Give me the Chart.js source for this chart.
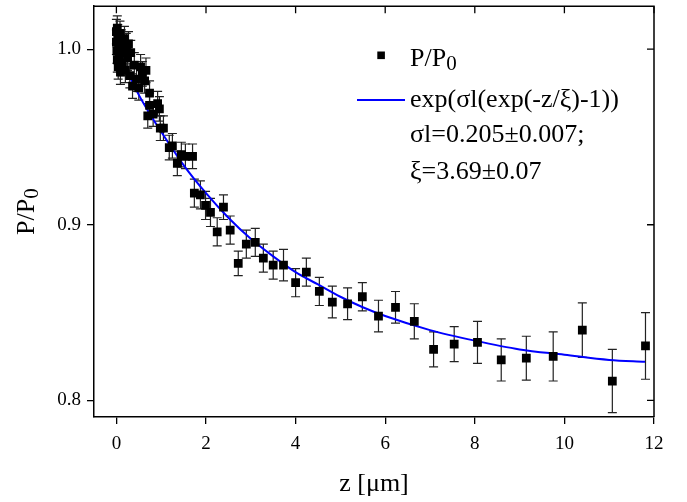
<!DOCTYPE html>
<html>
<head>
<meta charset="utf-8">
<script src="https://cdn.jsdelivr.net/npm/chart.js@4/dist/chart.umd.min.js"></script>
<style>
html,body{margin:0;padding:0;background:#fff;}
#wrap{width:687px;height:502px;position:relative;}
</style>
</head>
<body>
<div id="wrap"><canvas id="c" width="687" height="502"></canvas></div>
<script>
// ---- measured data: z [µm], P/P0 and its error ----
const zValues = [
  0.00,0.00,0.01,0.02,0.02,0.03,0.04,0.05,0.06,0.08,0.09,0.11,0.13,0.15,0.18,0.20,0.22,0.25,0.27,0.30,
  0.32,0.36,0.40,0.45,0.50,0.54,0.58,0.63,0.66,0.70,0.74,0.74,0.82,0.92,0.96,0.98,1.05,1.18,1.25,1.36,
  1.45,1.54,1.70,1.74,1.875,1.99,2.10,2.25,2.39,2.54,2.72,2.90,3.10,3.28,3.50,3.73,4.00,4.24,4.53,4.82,
  5.16,5.49,5.85,6.23,6.65,7.08,7.54,8.06,8.59,9.15,9.75,10.40,11.07,11.81
];
const pValues = [
  1.010,1.004,0.999,1.012,0.994,1.007,0.990,1.002,0.996,1.009,0.987,1.004,0.992,0.998,1.006,0.988,1.002,0.995,1.003,0.985,
  0.998,0.979,0.991,0.983,0.978,0.990,0.986,0.982,0.988,0.962,0.968,0.975,0.963,0.969,0.966,0.955,0.955,0.944,0.945,0.935,
  0.940,0.939,0.939,0.918,0.917,0.911,0.907,0.896,0.910,0.897,0.878,0.889,0.890,0.881,0.877,0.877,0.867,0.873,0.862,0.856,
  0.855,0.859,0.848,0.853,0.845,0.829,0.832,0.833,0.823,0.824,0.825,0.840,0.811,0.831
];
const pErrors = [
  0.007,0.007,0.007,0.007,0.007,0.007,0.007,0.007,0.007,0.007,0.007,0.007,0.007,0.007,0.007,0.007,0.007,0.007,0.007,0.007,
  0.007,0.007,0.007,0.007,0.007,0.007,0.007,0.007,0.007,0.007,0.007,0.007,0.007,0.007,0.007,0.007,0.007,0.007,0.007,0.007,
  0.007,0.007,0.007,0.008,0.008,0.008,0.008,0.008,0.007,0.008,0.007,0.008,0.008,0.008,0.008,0.009,0.008,0.008,0.008,0.009,
  0.009,0.008,0.009,0.009,0.010,0.010,0.010,0.012,0.012,0.0125,0.014,0.0155,0.018,0.019
];
// ---- fitted curve ----
const fitZ = [0,0.25,0.5,0.75,1,1.5,2,2.5,3,3.5,4,4.5,5,5.5,6,7,8,9,10,11,11.8];
const fitP = [1.000,0.987,0.974,0.963,0.953,0.934,0.918,0.904,0.892,0.882,0.873,0.866,0.859,0.853,0.848,0.840,0.834,0.829,0.826,0.823,0.822];
// ---- axes ----
const xTicks = [0,2,4,6,8,10,12];
const yTicks = [0.8,0.9,1.0];
const xTitle = 'z [μm]';
const yTitleMain = 'P/P';
const yTitleSub = '0';
const legendMain = 'P/P';
const legendSub = '0';
const legendFitLines = ['exp(σl(exp(-z/ξ)-1))','σl=0.205±0.007;','ξ=3.69±0.07'];

const FONT = "'Liberation Serif','Times New Roman',serif";

const scatterData = zValues.map((z,i)=>({x:z,y:pValues[i]}));
const fitData = fitZ.map((z,i)=>({x:z,y:fitP[i]}));

const errorBars = {
  id:'errorBars',
  beforeDatasetsDraw(chart){
    const {ctx, scales:{x,y}} = chart;
    ctx.save();
    ctx.strokeStyle = '#222';
    ctx.lineWidth = 1.2;
    const cap = 4.5;
    zValues.forEach((z,i)=>{
      const px = x.getPixelForValue(z);
      const y1 = y.getPixelForValue(pValues[i]+pErrors[i]);
      const y2 = y.getPixelForValue(pValues[i]-pErrors[i]);
      ctx.beginPath();
      ctx.moveTo(px,y1); ctx.lineTo(px,y2);
      ctx.moveTo(px-cap,y1); ctx.lineTo(px+cap,y1);
      ctx.moveTo(px-cap,y2); ctx.lineTo(px+cap,y2);
      ctx.stroke();
    });
    ctx.restore();
  }
};

const frameAndText = {
  id:'frameAndText',
  afterDraw(chart){
    const {ctx, chartArea:a, scales:{x,y}} = chart;
    ctx.save();
    // frame top and right
    ctx.strokeStyle = '#000';
    ctx.lineWidth = 1.5;
    ctx.beginPath();
    ctx.moveTo(a.left, a.top); ctx.lineTo(a.right, a.top); ctx.lineTo(a.right, a.bottom);
    ctx.stroke();
    // inward mirror ticks
    ctx.lineWidth = 1.3;
    ctx.beginPath();
    xTicks.forEach(v=>{ const p = x.getPixelForValue(v); ctx.moveTo(p,a.top); ctx.lineTo(p,a.top+7); });
    yTicks.forEach(v=>{ const p = y.getPixelForValue(v); ctx.moveTo(a.right,p); ctx.lineTo(a.right-7,p); });
    ctx.stroke();

    ctx.fillStyle = '#000';
    ctx.textAlign = 'left';
    ctx.textBaseline = 'alphabetic';
    // x title
    ctx.font = '26px ' + FONT;
    const xw = ctx.measureText(xTitle).width;
    ctx.fillText(xTitle, (a.left+a.right)/2 - xw/2, 491);
    // y title (rotated)
    ctx.save();
    ctx.translate(34, (a.top+a.bottom)/2);
    ctx.rotate(-Math.PI/2);
    ctx.font = '26px ' + FONT;
    const mw = ctx.measureText(yTitleMain).width;
    ctx.font = '21px ' + FONT;
    const sw = ctx.measureText(yTitleSub).width;
    const start = -(mw+sw)/2;
    ctx.font = '26px ' + FONT;
    ctx.fillText(yTitleMain, start, 0);
    ctx.font = '21px ' + FONT;
    ctx.fillText(yTitleSub, start+mw, 4);
    ctx.restore();

    // legend
    ctx.fillStyle = '#000';
    ctx.fillRect(377.3, 51.5, 7.6, 7.6);
    ctx.font = '26px ' + FONT;
    ctx.fillText(legendMain, 410, 66);
    const lw = ctx.measureText(legendMain).width;
    ctx.font = '21px ' + FONT;
    ctx.fillText(legendSub, 410+lw, 70);
    ctx.strokeStyle = '#0000ff';
    ctx.lineWidth = 2;
    ctx.beginPath(); ctx.moveTo(357,100); ctx.lineTo(405,100); ctx.stroke();
    ctx.font = '26px ' + FONT;
    ctx.fillText(legendFitLines[0], 410, 107);
    ctx.fillText(legendFitLines[1], 410, 142);
    ctx.fillText(legendFitLines[2], 410, 179);
    ctx.restore();
  }
};

new Chart(document.getElementById('c'), {
  type:'scatter',
  data:{
    datasets:[
      {
        label:'P/P0',
        data:scatterData,
        pointStyle:'rect',
        pointRadius:6.2,
        pointHoverRadius:6.2,
        backgroundColor:'#000',
        borderWidth:0,
        order:1
      },
      {
        label:'fit',
        type:'line',
        data:fitData,
        borderColor:'#0000ff',
        borderWidth:2,
        pointRadius:0,
        fill:false,
        cubicInterpolationMode:'monotone',
        order:2
      }
    ]
  },
  options:{
    responsive:false,
    animation:false,
    devicePixelRatio:1,
    layout:{padding:{top:5,right:33,left:0,bottom:0}},
    plugins:{legend:{display:false},tooltip:{enabled:false},title:{display:false}},
    scales:{
      x:{
        type:'linear',
        min:-0.5, max:12,
        afterBuildTicks:s=>{ s.ticks = xTicks.map(v=>({value:v})); },
        afterFit:s=>{ s.height = 85; s.paddingLeft = 0; s.paddingRight = 0; },
        ticks:{color:'#000',font:{family:FONT,size:19},padding:9,callback:v=>String(v),maxRotation:0},
        grid:{display:true,drawOnChartArea:false,drawTicks:true,tickLength:7,color:'#000',lineWidth:1.3},
        border:{display:true,color:'#000',width:1.5}
      },
      y:{
        type:'linear',
        min:0.7905, max:1.0245,
        afterBuildTicks:s=>{ s.ticks = yTicks.map(v=>({value:v})); },
        afterFit:s=>{ s.width = 94; s.paddingTop = 0; s.paddingBottom = 0; },
        ticks:{color:'#000',font:{family:FONT,size:19},padding:6,callback:v=>v.toFixed(1)},
        grid:{display:true,drawOnChartArea:false,drawTicks:true,tickLength:7,color:'#000',lineWidth:1.3},
        border:{display:true,color:'#000',width:1.5}
      }
    }
  },
  plugins:[errorBars, frameAndText]
});
</script>
</body>
</html>
